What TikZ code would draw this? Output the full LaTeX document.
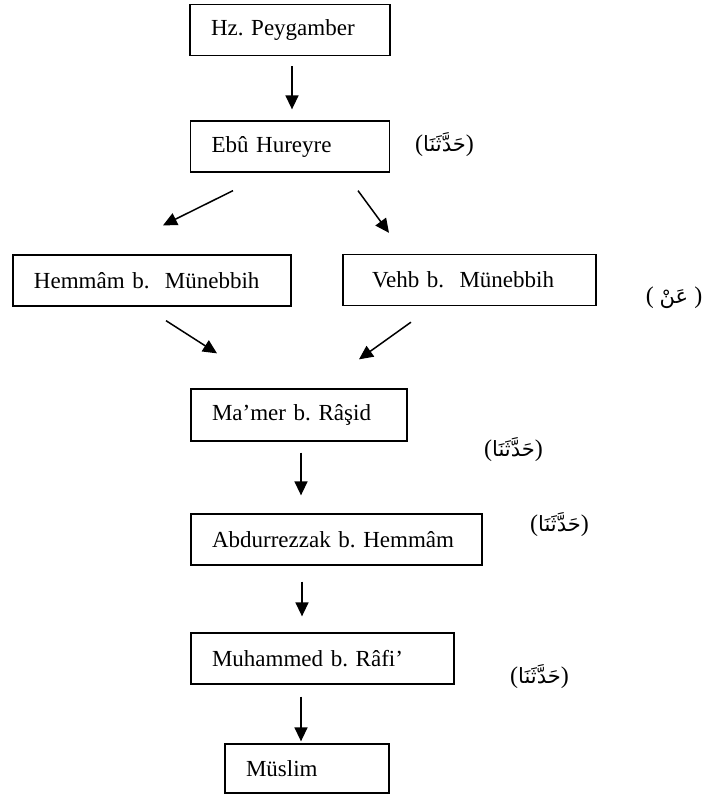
\documentclass[tikz,border=0pt]{standalone}
\usepackage{fontspec}
\setmainfont{Liberation Serif}
\newfontfamily\arabicfont[Script=Arabic]{DejaVu Sans}
\TeXXeTstate=1
\frenchspacing
\usetikzlibrary{arrows.meta,calc}
\newcommand{\haddesena}{{\fontsize{24}{28}\selectfont(}{\arabicfont\fontsize{21}{26}\selectfont\beginR حَدَّثَنَا\endR}{\fontsize{24}{28}\selectfont)}}
\newcommand{\ankelime}{{\fontsize{24}{28}\selectfont(\ }{\arabicfont\fontsize{21}{26}\selectfont\beginR عَنْ\endR}{\fontsize{24}{28}\selectfont\ )}}
\tikzset{
  namebox/.style={draw, line width=1.3pt, rectangle, inner xsep=21pt, inner ysep=0pt,
    align=left, minimum height=51pt, font=\fontsize{23}{26}\selectfont},
  arr/.style={line width=1.5pt, -{Triangle[length=14pt,width=13pt]}},
  arlabel/.style={inner sep=0pt}
}
\begin{document}
\begin{tikzpicture}[x=1pt,y=-1pt]
\useasboundingbox (0,0) rectangle (708,796);
\node[namebox, text width=158pt] (hz) at (290,30) {Hz. Peygamber};
\node[namebox, text width=157pt] (ebu) at (290,146.5) {Ebû Hureyre};
\node[namebox, text width=236pt] (hem) at (152,280.5) {Hemmâm b.\ \ Münebbih};
\node[namebox, text width=211pt] (vehb) at (469.5,280) {\hspace*{8pt}Vehb b.\ \ Münebbih};
\node[namebox, text width=174pt, minimum height=52pt] (mamer) at (299,415) {Ma’mer b. Râşid};
\node[namebox, text width=249pt] (abd) at (336.5,539.5) {Abdurrezzak b. Hemmâm};
\node[namebox, text width=221pt] (muh) at (322.5,658.5) {Muhammed b. Râfi’};
\node[namebox, text width=122pt, minimum height=49pt] (mus) at (307,768.5) {Müslim};

\node[arlabel] (l1) at (444.5,145) {\haddesena};
\node[arlabel] (l2) at (674,298) {\ankelime};
\node[arlabel] (l3) at (513.5,450) {\haddesena};
\node[arlabel] (l4) at (559.5,525) {\haddesena};
\node[arlabel] (l5) at (539.5,677) {\haddesena};

\draw[arr] ($(hz.south)+(2,10)$) -- ($(ebu.north)+(2,-11)$);
\draw[arr] ($(ebu.south)+(-57,18)$) -- ($(hem.north)+(11,-29)$);
\draw[arr] ($(ebu.south)+(68,18)$) -- ($(vehb.north)+(-80.5,-21)$);
\draw[arr] ($(hem.south)+(14,14)$) -- ($(mamer.north)+(-82,-35)$);
\draw[arr] ($(vehb.south)+(-58.5,16)$) -- ($(mamer.north)+(60,-29)$);
\draw[arr] ($(mamer.south)+(2,11)$) -- ($(abd.north)+(-35.5,-18)$);
\draw[arr] ($(abd.south)+(-34.5,16)$) -- ($(muh.north)+(-20.5,-16)$);
\draw[arr] ($(muh.south)+(-21.5,12)$) -- ($(mus.north)+(-6,-2)$);
\end{tikzpicture}
\end{document}
